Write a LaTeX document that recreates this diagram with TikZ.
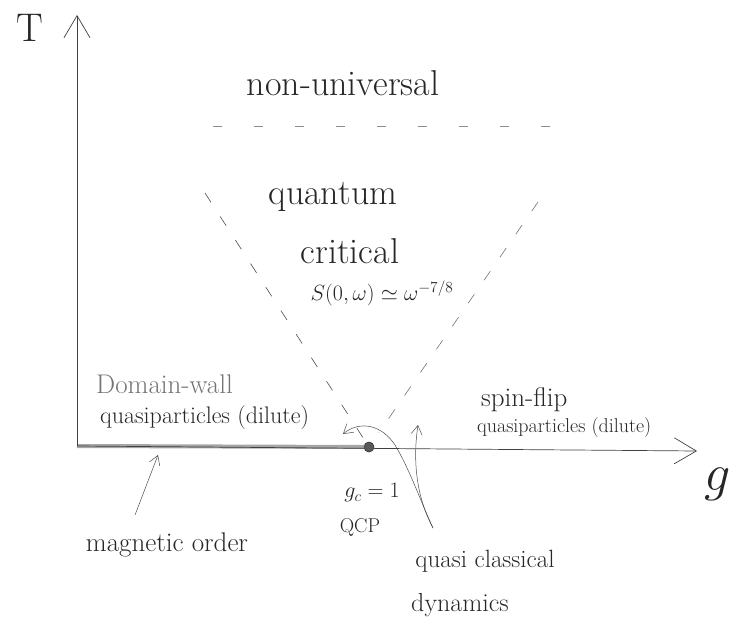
\RequirePackage{fix-cm}
\documentclass[tikz,border=0pt]{standalone}
\usepackage{amsmath,amssymb}
\usepackage{tikz}
\usetikzlibrary{arrows,arrows.meta}

\begin{document}
\begin{tikzpicture}[x=1pt,y=-1pt,
lbl/.style={inner sep=0pt,text=black!85},
big/.style={lbl,font=\fontsize{36}{40}\selectfont},
mid/.style={lbl,font=\fontsize{27}{30}\selectfont},
small/.style={lbl,font=\fontsize{22}{26}\selectfont},
axis/.style={-{Straight Barb[length=22pt,width=26pt]},line width=0.7pt,black!75},
ptr/.style={-{Straight Barb[length=9pt,width=11pt]},line width=0.5pt,black!70},
crossover/.style={dash pattern=on 11pt off 17pt,line width=0.6pt,black!70} ]

\useasboundingbox (0,0) rectangle (731,631);

% axes
\coordinate (o) at (77,446);
\coordinate (ytip) at (77,15);
\coordinate (xtip) at (697,451);
\node[lbl,font=\fontsize{40}{44}\selectfont](T) at (30,28) {T};
\node[lbl,font=\fontsize{52}{56}\selectfont](g) at (718,484) {$g$};

\node[circle,fill=black!65,draw=black!80,minimum size=10pt,inner sep=0pt](qcp) at (369,447) {};
\draw[line width=4pt,black!35] (o) -- (qcp.center);
\draw[axis] (o) -- (ytip);
\draw[axis] (o) -- (xtip);
\node[circle,fill=black!65,draw=black!80,minimum size=10pt,inner sep=0pt] at (qcp) {};

% crossover lines
\coordinate (hl) at (213,126);
\coordinate (hr) at (557,126);
\coordinate (lt) at (205,193);
\coordinate (rt) at (538,202);
\draw[dash pattern=on 9pt off 32pt,line width=0.5pt,black!45] (hl) -- (hr);
\draw[crossover] (lt) -- (qcp);
\draw[crossover,black!55,shorten >=12pt] (rt) -- (qcp);

% regions
\node[big](nonuni) at (343,83) {non-universal};
\node[big](quantum) at (333,197) {quantum};
\node[big](critical) at (350,251) {critical};
\node[small](sqw) at (382,293) {$S(0,\omega)\simeq\omega^{-7/8}$};

\node[mid,anchor=west,text=black!55](dw) at (96,384) {Domain-wall};
\node[small,font=\fontsize{24}{28}\selectfont,anchor=west](dwqp) at (100,418) {quasiparticles (dilute)};
\node[mid,anchor=west](sf) at (481,400) {spin-flip};
\node[small,font=\fontsize{20}{24}\selectfont,anchor=west](sfqp) at (477,428) {quasiparticles (dilute)};

\node[small](gc) at (372,493) {$g_c=1$};
\node[small,font=\fontsize{20}{24}\selectfont](qcplbl) at (360,527) {QCP};

\node[mid](mo) at (167,545) {magnetic order};
\node[mid,font=\fontsize{25}{28}\selectfont](qc) at (485,561) {quasi classical};
\node[mid,font=\fontsize{26}{28}\selectfont](dyn) at (460,605) {dynamics};

% pointers
\coordinate (mofoot) at (135,515);
\coordinate (motip) at (158,455);
\coordinate (qcfoot) at (433,528);
\coordinate (sftip) at (418,425);
\coordinate (dwtip) at (343,434);
\draw[ptr] (mofoot) -- (motip);
\draw[ptr] (qcfoot) .. controls (418,500) and (412,465) .. (sftip);
\draw[ptr] (qcfoot) .. controls (420,500) and (410,470) .. (395,445) .. controls (382,425) and (360,420) .. (dwtip);
\end{tikzpicture}
\end{document}
